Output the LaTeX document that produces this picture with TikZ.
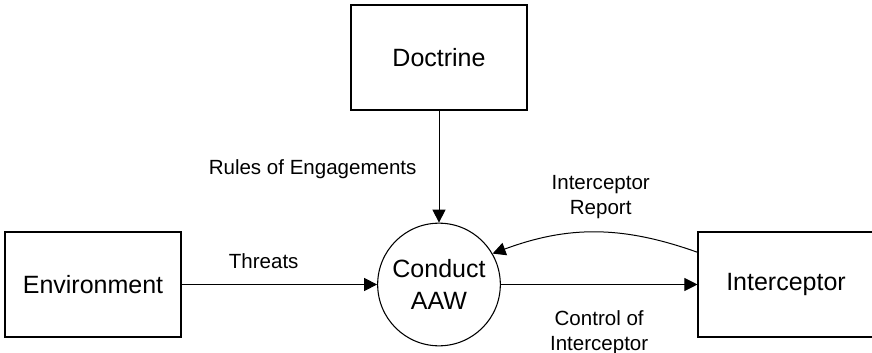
\documentclass[tikz,border=0pt]{standalone}
\usepackage{fontspec}
\setmainfont{Liberation Sans}
\usetikzlibrary{positioning, arrows.meta}
\tikzset{
    entity/.style={
           rectangle,
           draw=black, line width=0.8pt,
           minimum width=132pt,
           minimum height=78.75pt,
           inner sep=2pt,
           font=\fontsize{18.75}{24}\selectfont,
           text centered,
           },
    process/.style={
           circle,
           draw=black, line width=0.8pt,
           minimum size=92pt,
           inner sep=0pt,
           font=\fontsize{18.75}{24}\selectfont,
           align=center,
           },
    flow/.style={
           font=\fontsize{15.4}{18.5}\selectfont,
           inner sep=0pt,
           align=center,
           },
}

\begin{document}
\begin{tikzpicture}[x=0.75pt,y=-0.75pt,-{Triangle[length=9.75pt,width=9.75pt]},line width=0.75pt,node distance=259.5pt]
  \useasboundingbox (0,0) rectangle (872,353);
  \node[process] at (439,284.5)                        (AAW)         {Conduct\\AAW};
  \node[entity, left of=AAW]                           (Environment) {Environment};
  \node[entity, right of=AAW, node distance=260.25pt]  (Interceptor) {Interceptor};
  \node[entity, above of=AAW, node distance=170.25pt]  (Doctrine)    {Doctrine};

  \draw (Environment)     edge[]                node[flow, above=11.6pt, pos=0.42] (thr) {Threats}                (AAW);
  \draw (Doctrine)        edge[]                node[flow, left=16.5pt, pos=0.52]  (roe) {Rules of Engagements}   (AAW);
  \draw (AAW)             edge[]                node[flow, below=19.2pt]           (ctl) {Control of\\Interceptor} (Interceptor);
  \draw (Interceptor.160) to[bend right=20]     node[flow, above=10pt, pos=0.47]   (rep) {Interceptor\\Report}     (AAW.30);

\end{tikzpicture}
\end{document}
